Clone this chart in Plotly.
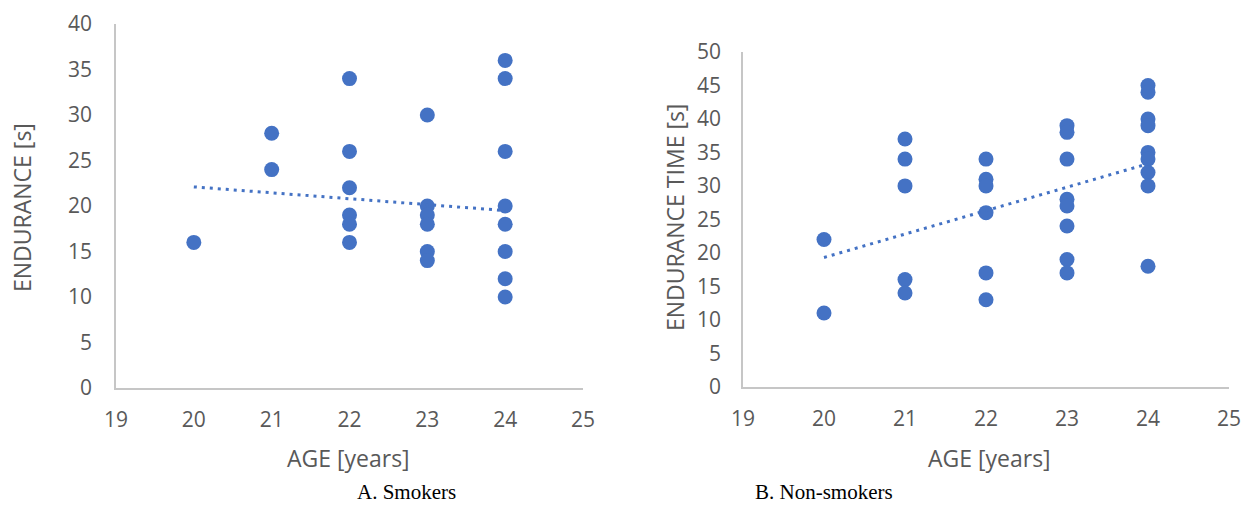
import plotly.graph_objects as go

# ---- data: smokers ----
smokers_age = [20, 21, 21, 22, 22, 22, 22, 22, 22, 23, 23, 23, 23, 23, 23,
               24, 24, 24, 24, 24, 24, 24, 24]
smokers_endurance = [16, 28, 24, 34, 26, 22, 19, 18, 16, 30, 20, 19, 18, 15, 14,
                     36, 34, 26, 20, 18, 15, 12, 10]
smokers_trend_age = [20, 24]
smokers_trend_val = [22.1, 19.5]

# ---- data: non-smokers ----
non_age = [20, 20, 21, 21, 21, 21, 21, 22, 22, 22, 22, 22, 22,
           23, 23, 23, 23, 23, 23, 23, 23,
           24, 24, 24, 24, 24, 24, 24, 24, 24]
non_endurance = [22, 11, 37, 34, 30, 16, 14, 34, 31, 30, 26, 17, 13,
                 39, 38, 34, 28, 27, 24, 19, 17,
                 45, 44, 40, 39, 35, 34, 32, 30, 18]
non_trend_age = [20, 24]
non_trend_val = [19.3, 33.3]

x_ticks = [19, 20, 21, 22, 23, 24, 25]

BLUE = "#4472C4"
GREY = "#595959"
LINE = "#c6c6c6"
FONT = "Open Sans"

fig = go.Figure()

fig.add_trace(go.Scatter(x=smokers_age, y=smokers_endurance, mode="markers",
                         marker=dict(color=BLUE, size=15), xaxis="x", yaxis="y",
                         showlegend=False))
fig.add_trace(go.Scatter(x=smokers_trend_age, y=smokers_trend_val, mode="lines",
                         line=dict(color=BLUE, width=3, dash="3px,5px"),
                         xaxis="x", yaxis="y", showlegend=False))
fig.add_trace(go.Scatter(x=non_age, y=non_endurance, mode="markers",
                         marker=dict(color=BLUE, size=15), xaxis="x2", yaxis="y2",
                         showlegend=False))
fig.add_trace(go.Scatter(x=non_trend_age, y=non_trend_val, mode="lines",
                         line=dict(color=BLUE, width=3, dash="3px,5px"),
                         xaxis="x2", yaxis="y2", showlegend=False))

axis_common = dict(showgrid=False, zeroline=False, showline=True, linecolor=LINE,
                   linewidth=1.5, ticks="", automargin=False,
                   tickfont=dict(family=FONT, size=21, color=GREY))

fig.update_layout(
    width=1249, height=506,
    margin=dict(l=0, r=0, t=0, b=0),
    paper_bgcolor="white", plot_bgcolor="white",
    xaxis=dict(domain=[116/1249, 583/1249], range=[19, 25], tickvals=x_ticks,
               anchor="y", ticklabelstandoff=12, **axis_common),
    yaxis=dict(domain=[1-388/506, 1-24/506], range=[0, 40], dtick=5,
               anchor="x", ticklabelstandoff=18, **axis_common),
    xaxis2=dict(domain=[743/1249, 1229/1249], range=[19, 25], tickvals=x_ticks,
                anchor="y2", ticklabelstandoff=12, **axis_common),
    yaxis2=dict(domain=[1-386.7/506, 1-52/506], range=[0, 50], dtick=5,
                anchor="x2", ticklabelstandoff=16, **axis_common),
)

ann = []
def add_ann(text, x, y, size=23, color=GREY, family=FONT, angle=0):
    ann.append(dict(text=text, x=x/1249, y=1-y/506, xref="paper", yref="paper",
                    showarrow=False, textangle=angle,
                    font=dict(family=family, size=size, color=color),
                    xanchor="center", yanchor="middle"))

add_ann("AGE [years]", 348, 458)
add_ann("AGE [years]", 989, 458)
add_ann("ENDURANCE [s]", 22, 208, angle=-90)
add_ann("ENDURANCE TIME [s]", 675, 218, angle=-90)
add_ann("A. Smokers", 406, 492, size=21, color="black", family="Liberation Serif")
add_ann("B. Non-smokers", 824, 492, size=21, color="black", family="Liberation Serif")
fig.update_layout(annotations=ann)

fig.write_html("out.html", config={"displayModeBar": False},
               post_script="document.body.style.margin='0';document.body.style.overflow='hidden';")
